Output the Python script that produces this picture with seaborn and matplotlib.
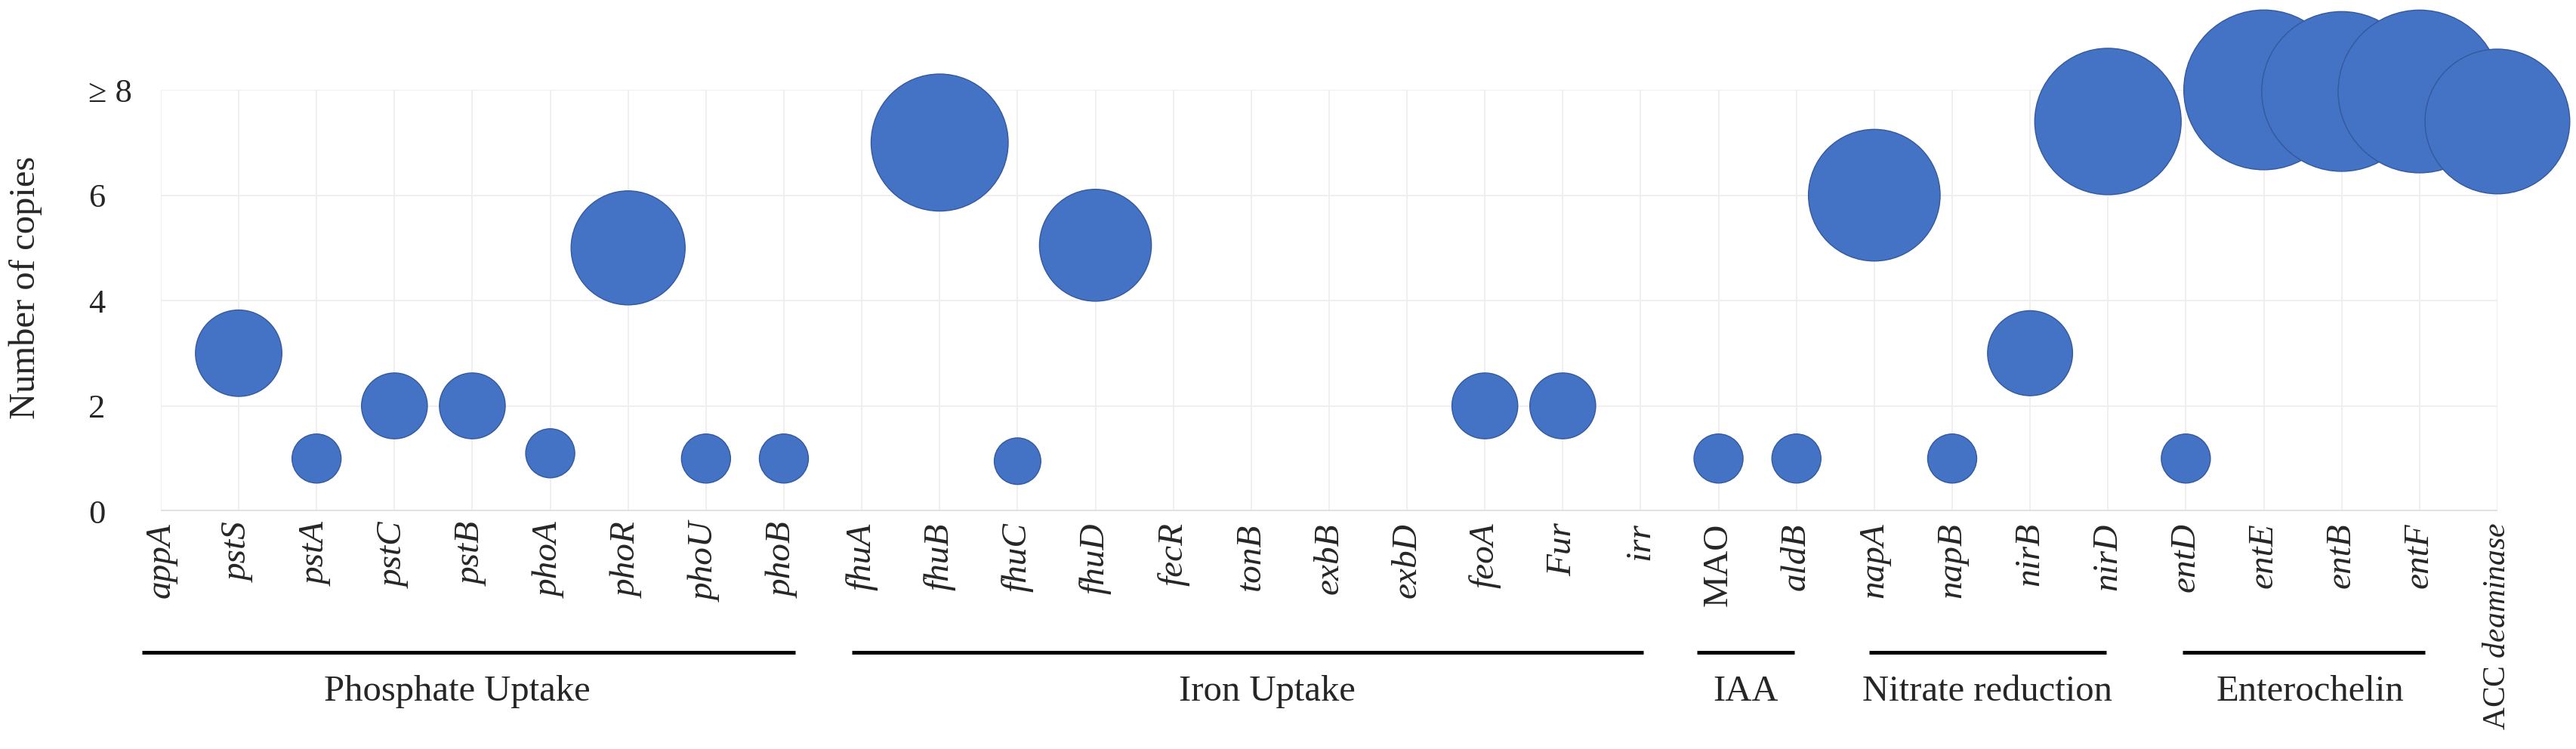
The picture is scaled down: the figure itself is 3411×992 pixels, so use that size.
import numpy as np
import pandas as pd
import matplotlib
matplotlib.use("Agg")
import matplotlib.pyplot as plt
import matplotlib.transforms as mtransforms
import seaborn as sns

# genes on the x axis, copy number on y, bubble area
genes = ["appA", "pstS", "pstA", "pstC", "pstB", "phoA", "phoR", "phoU", "phoB",
         "fhuA", "fhuB", "fhuC", "fhuD", "fecR", "tonB", "exbB", "exbD", "feoA", "Fur", "irr",
         "MAO", "aldB",
         "napA", "napB", "nirB", "nirD",
         "entD", "entE", "entB", "entF",
         "ACC deaminase"]
copies = [np.nan, 3, 1, 2, 2, 1.1, 5, 1, 1,
          np.nan, 7, 0.95, 5.05, np.nan, np.nan, np.nan, np.nan, 2, 2, np.nan,
          1, 1,
          6, 1, 3, 7.4,
          1, 8, 7.97, 7.97,
          7.4]
bubble = [np.nan, 3.1, 1, 1.8, 1.8, 1, 5.4, 1, 1,
          np.nan, 7.8, 0.9, 5.2, np.nan, np.nan, np.nan, np.nan, 1.8, 1.8, np.nan,
          1, 1,
          7.2, 1, 3.0, 8.9,
          1, 10.6, 10.6, 11.0,
          8.7]
ytick_vals = [0, 2, 4, 6, 8]
ytick_labels = ["0", "2", "4", "6", "≥ 8"]

groups = ["Phosphate Uptake", "Iron Uptake", "IAA", "Nitrate reduction", "Enterochelin"]
group_start = [-0.24, 8.87, 19.72, 21.93, 25.96]
group_end = [8.15, 19.03, 20.97, 24.98, 29.07]
group_text_x = [3.8, 14.2, 20.35, 23.45, 27.6]

df = pd.DataFrame({"gene": genes, "copies": copies, "bubble": bubble})
df["pos"] = np.arange(len(df))
pts = df.dropna()

sns.set_style("white")
plt.rcParams["font.family"] = ["Liberation Serif", "DejaVu Serif"]
plt.rcParams["mathtext.fontset"] = "custom"
plt.rcParams["mathtext.rm"] = "Liberation Serif"
plt.rcParams["mathtext.it"] = "Liberation Serif:italic"

fig = plt.figure(figsize=(34.12, 9.92), dpi=100)
ax = fig.add_axes([0.0624, 0.3175, 0.9068, 0.5625])

ax.set_axisbelow(True)
ax.grid(True, color="#EEEEEE", linewidth=1.3)
ax.axhline(0, color="#E0E0E0", linewidth=3.5, zorder=1)

# bubble area ~ 2190 pt^2 per unit (65 px diameter for one unit)
bmax = 12
sns.scatterplot(data=pts, x="pos", y="copies", size="bubble",
                sizes=(0, 2190 * bmax), size_norm=(0, bmax),
                color="#4472C4", edgecolor="#34599E", linewidth=1.0,
                legend=False, ax=ax, zorder=3)
for coll in ax.collections:
    coll.set_clip_on(False)

ax.set_xlim(0, len(genes) - 1)
ax.set_ylim(0, 8)
for s in ax.spines.values():
    s.set_visible(False)

labels = []
for g in genes:
    if g == "ACC deaminase":
        labels.append(r"ACC $\mathit{deaminase}$")
    else:
        labels.append(g)
ax.set_xticks(df["pos"])
ax.set_xticklabels(labels, rotation=90, fontsize=34)
for lab, g in zip(ax.get_xticklabels(), genes):
    if g == "ACC deaminase":
        lab.set_fontsize(30)
    elif g != "MAO":
        lab.set_fontstyle("italic")
ax.tick_params(axis="x", length=0, pad=11)

ax.set_yticks(ytick_vals)
ax.set_yticklabels(ytick_labels, fontsize=32, ha="left")
ax.tick_params(axis="y", length=0, pad=69)

ax.set_xlabel("")
ax.set_ylabel("")
fig.text(0.0098, 0.616, "Number of copies", rotation=90, ha="center", va="center",
         fontsize=35)

# group brackets under the gene names
trans = mtransforms.blended_transform_factory(ax.transData, fig.transFigure)
for name, x0, x1, xt in zip(groups, group_start, group_end, group_text_x):
    ax.plot([x0, x1], [0.129, 0.129], color="black", linewidth=3.5,
            transform=trans, clip_on=False, solid_capstyle="butt")
    ax.text(xt, 0.077, name, transform=trans, ha="center", va="center", fontsize=35)

fig.savefig("out.png", dpi=100, facecolor="white")
